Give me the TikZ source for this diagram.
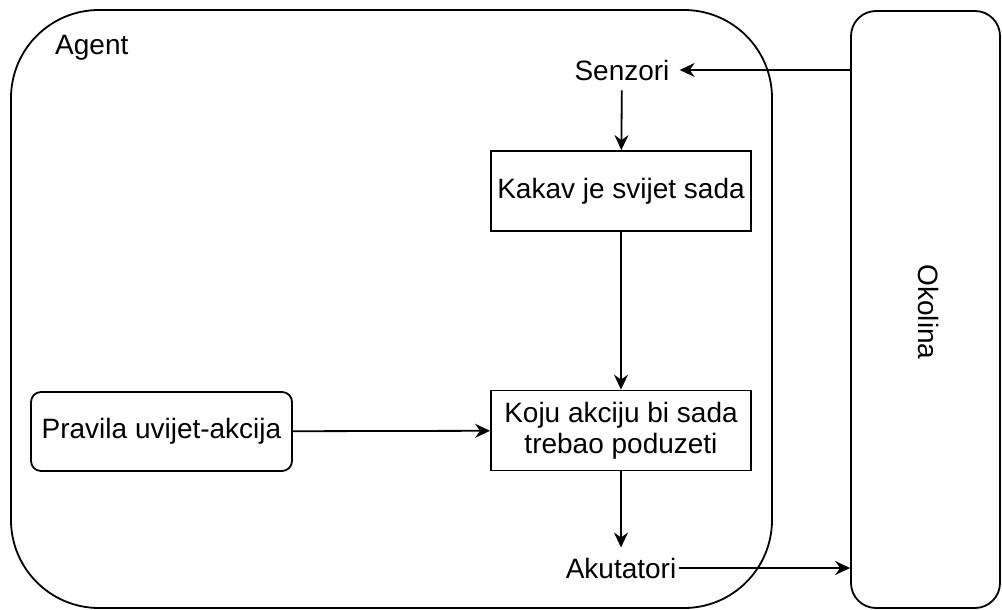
\documentclass[tikz,border=0pt]{standalone}
\usepackage{fontspec}
\setmainfont{Liberation Sans}
\usepackage{tikz}
\usetikzlibrary{positioning, arrows.meta}
\tikzset{
	every node/.append style={
		font={\fontsize{28}{31}\selectfont},
	},
	frame/.append style={
		draw,
		line width=1.8pt,
		inner sep=0pt,
	},
	layer/.append style={
		draw,
		align = center,
		line width=1.8pt,
		minimum width=260pt,
		minimum height=80pt,
	},
	labe/.append style={
		inner sep=10pt,
	},
	flow/.append style={
		-{Stealth[length=15pt, width=14pt, inset=5pt]},
		line width=1.8pt,
	}
}

\begin{document}
\begin{tikzpicture}[x=1pt, y=-1pt]
		\useasboundingbox (0,0) rectangle (1002,610);
		
		\node(agent)[frame, rounded corners=88pt, minimum width=761pt, minimum height=598pt] at (391.5,309) {};
		\node(okolina)[frame, rounded corners=25pt, minimum width=149pt, minimum height=597pt] at (925.5,309.5) {};
		\node(agentlbl)[anchor=west, inner sep=0pt] at (55,48) {Agent};
		\node(okolinalbl)[rotate=-90, inner sep=0pt] at (928,312) {Okolina};
		
		\node(senzori)[labe] at (622,70) {Senzori};
		\node(kakav)[layer] at (621,191) {Kakav je svijet sada};
		\node(koju)[layer] at (621,430.5) {Koju akciju bi sada\\trebao poduzeti};
		\node(pravila)[layer, rounded corners=10pt, minimum width=261pt, minimum height=79pt] at (161.5,431.5) {Pravila uvijet-akcija};
		\node(akutatori)[labe, inner xsep=3pt] at (621,568) {Akutatori};
		
		\draw[flow] (okolina.west |- senzori.east) -- (senzori.east);
		\draw[flow] (senzori) -- (kakav);
		\draw[flow] (kakav) -- (koju);
		\draw[flow] (pravila) -- (koju);
		\draw[flow] (koju) -- (akutatori);
		\draw[flow] (akutatori.east) -- (okolina.west |- akutatori.east);
		
\end{tikzpicture}
\end{document}
